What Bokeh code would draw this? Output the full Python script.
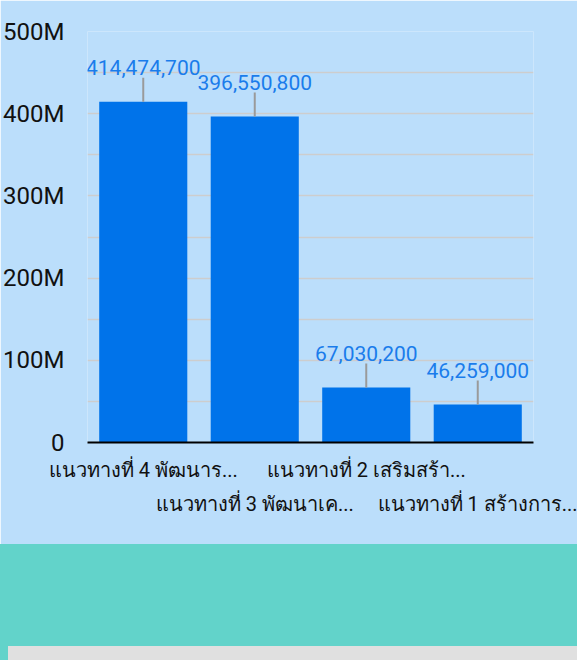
from math import pi
from bokeh.plotting import figure
from bokeh.models import (FactorRange, Range1d, FixedTicker, CategoricalAxis,
                          ColumnDataSource, CustomJSTickFormatter, Div)
from bokeh.layouts import column, row
from bokeh.core.properties import value
from bokeh.embed import file_html
from bokeh.resources import INLINE

# ---- data ----
categories = ["แนวทางที่ 4 พัฒนาร...", "แนวทางที่ 3 พัฒนาเค...",
              "แนวทางที่ 2 เสริมสร้า...", "แนวทางที่ 1 สร้างการ..."]
budgets = [414474700, 396550800, 67030200, 46259000]
budget_labels = ["414,474,700", "396,550,800", "67,030,200", "46,259,000"]
y_ticks = [0, 100000000, 200000000, 300000000, 400000000, 500000000]
y_tick_labels = ["0", "100M", "200M", "300M", "400M", "500M"]
y_minor_ticks = [50000000, 150000000, 250000000, 350000000, 450000000]

BG = "#bbdefb"
BAR = "#0073ea"
LABEL = "#1a7ceb"
TEAL = "#62d3ca"
GRAY = "#e0e0e0"

src = ColumnDataSource(dict(cat=categories, val=budgets, lab=budget_labels))

p = figure(x_range=FactorRange(factors=categories), y_range=Range1d(0, 500000000),
           width=577, height=544, output_backend="svg", toolbar_location=None,
           min_border_left=87, min_border_right=44, min_border_top=31,
           min_border_bottom=102)
p.background_fill_color = BG
p.border_fill_color = BG
p.outline_line_color = None

p.vbar(x="cat", top="val", width=0.79, source=src, fill_color=BAR, line_color=None)
p.ray(x="cat", y="val", length=24, angle=pi / 2, length_units="screen",
      line_color="#9a9a9a", line_width=2, source=src)
p.text(x="cat", y="val", text="lab", source=src, y_offset=-34,
       text_align="center", text_baseline="alphabetic",
       text_font=value("Roboto"), text_font_size="21px", text_color=LABEL)

# y axis
p.yaxis.ticker = FixedTicker(ticks=y_ticks, minor_ticks=y_minor_ticks)
p.yaxis.major_label_overrides = dict(zip(y_ticks, y_tick_labels))
p.yaxis.axis_line_color = None
p.yaxis.major_tick_line_color = None
p.yaxis.minor_tick_line_color = None
p.yaxis.major_tick_out = 0
p.yaxis.major_label_standoff = 19
p.yaxis.major_label_text_font = "Roboto"
p.yaxis.major_label_text_font_size = "24px"
p.yaxis.major_label_text_color = "#111111"

p.ygrid.grid_line_color = "#cdcdcd"
p.ygrid.grid_line_width = 1.5
p.ygrid.minor_grid_line_color = "#cdcdcd"
p.ygrid.minor_grid_line_width = 1.5
p.xgrid.grid_line_color = None

# x axis, staggered labels on two rows
p.xaxis.formatter = CustomJSTickFormatter(code="return (index % 2 == 0) ? tick : '';")
p.xaxis.axis_line_color = "black"
p.xaxis.axis_line_width = 2
p.xaxis.major_tick_line_color = None
p.xaxis.major_tick_out = 0
p.xaxis.major_label_standoff = 15
p.xaxis.major_label_text_font = "Roboto"
p.xaxis.major_label_text_font_size = "20px"
p.xaxis.major_label_text_color = "#111111"

ax2 = CategoricalAxis(formatter=CustomJSTickFormatter(code="return (index % 2 == 1) ? tick : '';"),
                      axis_line_color=None, major_tick_line_color=None,
                      major_tick_out=0, major_label_standoff=7,
                      major_label_text_font="Roboto", major_label_text_font_size="20px",
                      major_label_text_color="#111111")
p.add_layout(ax2, "below")

band = Div(text="", width=577, height=102, margin=0, styles={"background-color": TEAL})
strip = row(Div(text="", width=8, height=14, margin=0, styles={"background-color": TEAL}),
            Div(text="", width=569, height=14, margin=0, styles={"background-color": GRAY}),
            spacing=0)

layout = column(p, band, strip, spacing=0)

open("out.html", "w").write(file_html(layout, INLINE))
